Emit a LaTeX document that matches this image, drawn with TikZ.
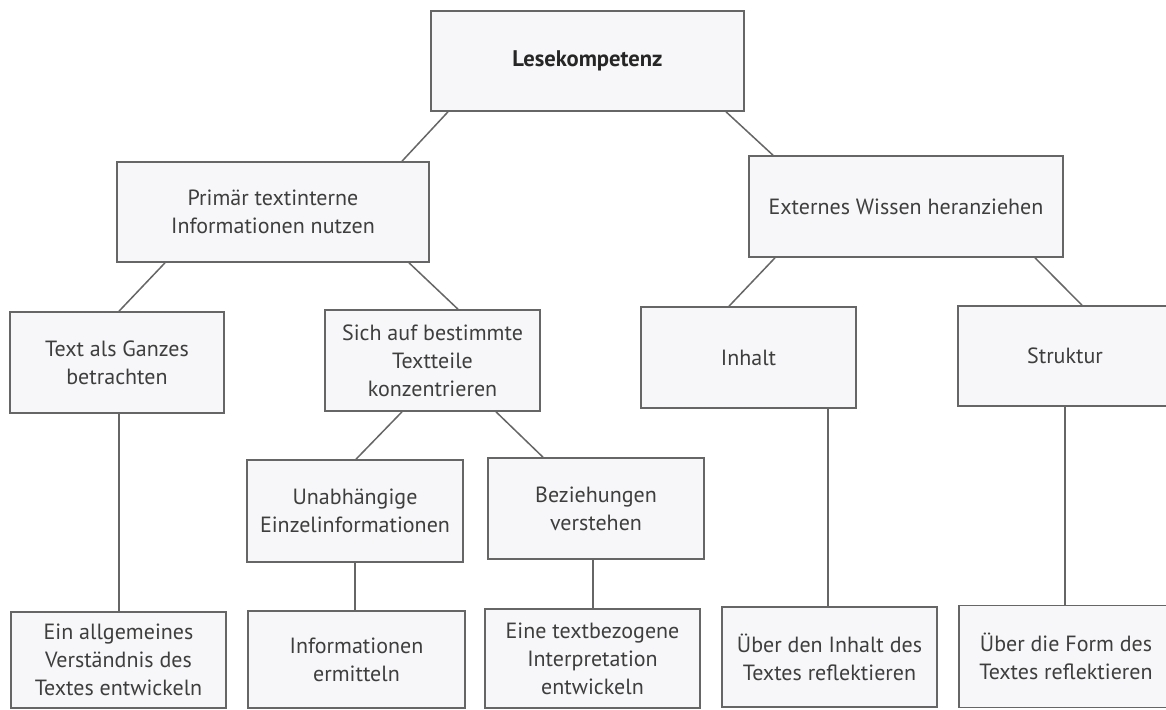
\documentclass[tikz,border=0pt]{standalone}
\usepackage{fontspec}
\setmainfont{PT Sans}
\begin{document}
\begin{tikzpicture}[x=0.5pt,y=-0.5pt,
  every node/.style={font=\fontsize{11}{14}\selectfont},
  box/.style={draw=linegray, fill=boxfill, line width=0.8pt, inner sep=0pt, align=center, text=txtgray},
  conn/.style={draw=linegray, line width=0.75pt}]
\definecolor{linegray}{HTML}{666666}
\definecolor{boxfill}{HTML}{F7F7F9}
\definecolor{txtgray}{HTML}{3E3E3E}
\useasboundingbox (0,0) rectangle (1166,709);
\fill[white] (0,0) rectangle (1166,709);
\clip (0,0) rectangle (1166,709);
% level 0
\node[box, minimum width=156.5pt, minimum height=50pt, font=\fontsize{11.3}{14}\selectfont\bfseries, text=black!85] (L) at (587.5,61) {Lesekompetenz};
% level 1
\node[box, minimum width=156pt, minimum height=50pt] (P) at (273,212) {Primär textinterne\\Informationen nutzen};
\node[box, minimum width=157pt, minimum height=50.5pt] (E) at (906,206.5) {Externes Wissen heranziehen};
% level 2
\node[box, minimum width=107pt, minimum height=50.5pt] (T) at (117,362.5) {Text als Ganzes\\betrachten};
\node[box, minimum width=107.5pt, minimum height=50.5pt] (S) at (432.5,360.5) {Sich auf bestimmte\\Textteile\\konzentrieren};
\node[box, minimum width=107.5pt, minimum height=50.5pt] (I) at (748.5,357.5) {Inhalt};
\node[box, minimum width=107pt, minimum height=50pt] (St) at (1065,356) {Struktur};
% level 3
\node[box, minimum width=108pt, minimum height=51pt] (U) at (355,511) {Unabhängige\\Einzelinformationen};
\node[box, minimum width=108pt, minimum height=50.5pt] (B) at (596,508.5) {Beziehungen\\verstehen};
% level 4
\node[box, minimum width=107.5pt, minimum height=48pt] (A) at (118.5,660) {Ein allgemeines\\Verständnis des\\Textes entwickeln};
\node[box, minimum width=108.5pt, minimum height=48.5pt] (Inf) at (356.5,659.5) {Informationen\\ermitteln};
\node[box, minimum width=107.5pt, minimum height=49.5pt] (Ei) at (592.5,658.5) {Eine textbezogene\\Interpretation\\entwickeln};
\node[box, minimum width=107.5pt, minimum height=50pt] (UI) at (829.5,657) {Über den Inhalt des\\Textes reflektieren};
\node[box, minimum width=107pt, minimum height=51pt] (UF) at (1066,656.5) {Über die Form des\\Textes reflektieren};
% connectors
\draw[conn] (L.south -| 448,0) -- (P.north -| 402,0);
\draw[conn] (L.south -| 726,0) -- (E.north -| 773,0);
\draw[conn] (P.south -| 165,0) -- (T.north -| 119,0);
\draw[conn] (P.south -| 409,0) -- (S.north -| 458,0);
\draw[conn] (E.south -| 775,0) -- (I.north -| 729,0);
\draw[conn] (E.south -| 1035,0) -- (St.north -| 1082,0);
\draw[conn] (T.south -| 119,0) -- (A.north -| 119,0);
\draw[conn] (S.south -| 402,0) -- (U.north -| 356,0);
\draw[conn] (S.south -| 496,0) -- (B.north -| 543,0);
\draw[conn] (U.south -| 355,0) -- (Inf.north -| 355,0);
\draw[conn] (B.south -| 593,0) -- (Ei.north -| 593,0);
\draw[conn] (I.south -| 828,0) -- (UI.north -| 828,0);
\draw[conn] (St.south -| 1065,0) -- (UF.north -| 1065,0);
\end{tikzpicture}
\end{document}
